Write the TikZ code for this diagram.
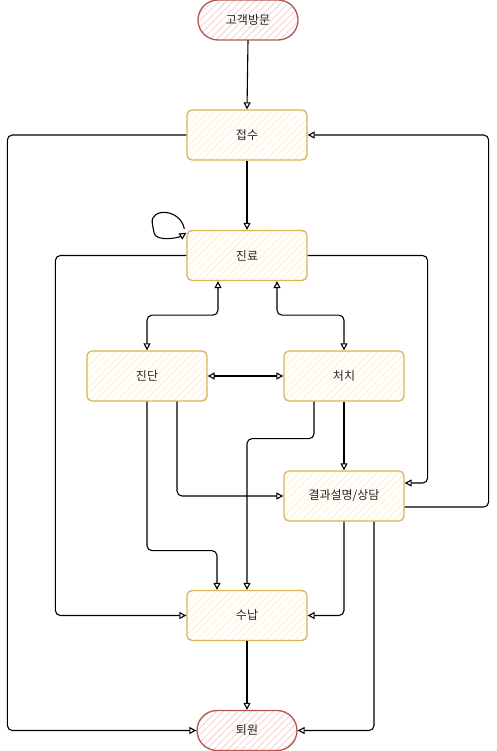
\documentclass[tikz,border=0pt]{standalone}
\usepackage{fontspec}
\setmainfont{Noto Sans CJK KR}
\usetikzlibrary{arrows.meta,patterns.meta}
\definecolor{termfill}{HTML}{F8CECC}
\definecolor{termdraw}{HTML}{B85450}
\definecolor{procfill}{HTML}{FFF2CC}
\definecolor{procdraw}{HTML}{D6B656}
\tikzset{
  base/.style={minimum width=120pt, minimum height=50pt, inner sep=0pt, line width=1.3pt,
    font=\fontsize{12}{14}\selectfont, text=black!85},
  procbox/.style={base, rounded corners=5pt, draw=procdraw, preaction={fill=white},
    pattern={Lines[angle=45,distance=5pt,line width=0.8pt]}, pattern color=procfill},
  termbox/.style={base, minimum width=100pt, minimum height=40pt, rounded corners=20pt, draw=termdraw,
    preaction={fill=white},
    pattern={Lines[angle=45,distance=5pt,line width=0.8pt]}, pattern color=termfill},
  conn/.style={draw=black, line width=1.1pt, rounded corners=5pt, -{Triangle[open,length=7pt,width=7pt]}},
  bconn/.style={conn, {Triangle[open,length=7pt,width=7pt]}-{Triangle[open,length=7pt,width=7pt]}}
}
\begin{document}
\begin{tikzpicture}[x=1pt,y=-1pt]
\useasboundingbox (0,0) rectangle (496,751);
\node[termbox] (gb) at (248,20) {고객방문};
\node[procbox] (js) at (247,135) {접수};
\node[procbox] (jr) at (247,255.5) {진료};
\node[procbox] (jd) at (147,376) {진단};
\node[procbox] (cc) at (344,376) {처치};
\node[procbox] (gw) at (344,496) {결과설명/상담};
\node[procbox] (sn) at (247,615.5) {수납};
\node[termbox] (tw) at (247,730.5) {퇴원};

\draw[conn] (gb.south) -- (js.north);
\draw[conn] (js.south) -- (jr.north);
\draw[conn] (js.west) -- ++(-179,0) |- (tw.west);
\draw[conn] ([yshift=-11pt]gw.east) -| ([xshift=181pt]js.east) -- (js.east);
\draw[conn] ([shift={(-2,-1)}]jr.north west) .. controls (180,208) and (150,208) .. (153,228)
  .. controls (156,242) and (178,238) .. ([shift={(0,3)}]jr.north west);
\draw[conn] (jr.west) -- ++(-131,0) |- (sn.west);
\draw[conn] (jr.east) -- ++(120,0) |- ([yshift=13pt]gw.east);
\draw[bconn] ([xshift=-29pt]jr.south) -- ++(0,34) -| (jd.north);
\draw[bconn] ([xshift=30pt]jr.south) -- ++(0,34) -| (cc.north);
\draw[bconn] (jd.east) -- (cc.west);
\draw[conn] (jd.south) -- ++(0,149) -| ([xshift=-30pt]sn.north);
\draw[conn] ([xshift=30pt]jd.south) |- (gw.west);
\draw[conn] ([xshift=-30pt]cc.south) -- ++(0,37) -| (sn.north);
\draw[conn] (cc.south) -- (gw.north);
\draw[conn] (gw.south) |- (sn.east);
\draw[conn] ([xshift=30pt]gw.south) |- (tw.east);
\draw[conn] (sn.south) -- (tw.north);
\end{tikzpicture}
\end{document}
